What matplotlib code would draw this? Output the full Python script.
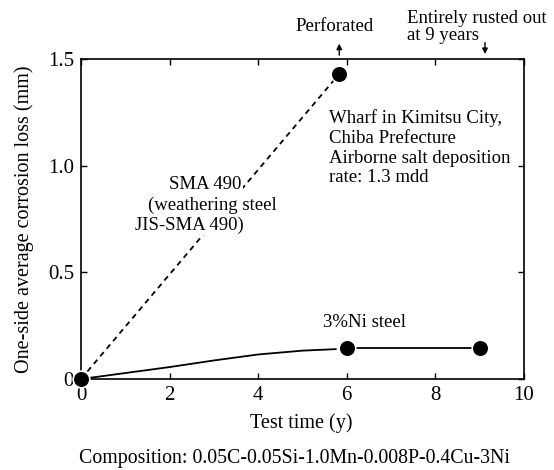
import matplotlib.pyplot as plt

plt.rcParams["font.family"] = "Liberation Serif"
plt.rcParams["font.size"] = 13.5

# SMA 490 (weathering steel), dashed line
sma_t = [0, 5.83]
sma_loss = [0, 1.43]

# 3%Ni steel, trend curve
ni_curve_t = [0, 1, 2, 3, 4, 5, 5.75]
ni_curve_loss = [0, 0.028, 0.056, 0.087, 0.115, 0.133, 0.14]
ni_line_t = [6, 9]
ni_line_loss = [0.145, 0.145]

# measured points
pts_t = [0, 5.83, 6, 9]
pts_loss = [0, 1.43, 0.145, 0.145]

xticks = [0, 2, 4, 6, 8, 10]
yticks = [0, 0.5, 1.0, 1.5]
ytick_labels = ["0", "0.5", "1.0", "1.5"]

fig = plt.figure(figsize=(5.54, 4.70), dpi=100)
ax = fig.add_axes([0.1462, 0.1936, 0.7996, 0.6809])

ax.plot(sma_t, sma_loss, 'k--', lw=1.3, dashes=(3, 2.5))
ax.plot(ni_curve_t, ni_curve_loss, 'k-', lw=1.3)
ax.plot(ni_line_t, ni_line_loss, 'k-', lw=1.3)
ax.plot(pts_t, pts_loss, 'o', color='k', ms=12, mec='white', mew=1.2,
        clip_on=False, zorder=5)

ax.set_xlim(0, 10)
ax.set_ylim(0, 1.5)
ax.set_xticks(xticks)
ax.set_yticks(yticks)
ax.set_yticklabels(ytick_labels)
ax.tick_params(direction='in', top=True, right=True, length=4, width=1,
               labelsize=15, pad=5)
for s in ax.spines.values():
    s.set_linewidth(1.2)

ax.set_xlabel('Test time (y)', fontsize=14.5)
ax.xaxis.set_label_coords(0.497, -0.106)
ax.set_ylabel('One-side average corrosion loss (mm)', fontsize=14.5)
ax.yaxis.set_label_coords(-0.106, 0.5)

# SMA 490 label sits on top of the dashed line, which is broken behind it
box = dict(fc='white', ec='none', pad=1)
ax.text(2.80, 0.91, 'SMA 490', ha='center', va='center', bbox=box, zorder=4)
ax.text(2.96, 0.816, '(weathering steel', ha='center', va='center', bbox=box, zorder=4)
ax.text(2.44, 0.72, 'JIS-SMA 490)', ha='center', va='center', bbox=box, zorder=4)

ax.text(5.6, 1.083, 'Wharf in Kimitsu City,\nChiba Prefecture\nAirborne salt deposition\nrate: 1.3 mdd',
        va='center', linespacing=1.2)
ax.text(6.39, 0.267, '3%Ni steel', ha='center', va='center')

# arrows above the frame
ax.annotate('', xy=(5.83, 1.585), xytext=(5.83, 1.505), annotation_clip=False,
            arrowprops=dict(arrowstyle='-|>', color='k', lw=1, mutation_scale=8))
ax.text(5.73, 1.65, 'Perforated', ha='center', va='center')
ax.annotate('', xy=(9.12, 1.51), xytext=(9.12, 1.59), annotation_clip=False,
            arrowprops=dict(arrowstyle='-|>', color='k', lw=1, mutation_scale=8))
ax.text(7.36, 1.648, 'Entirely rusted out\nat 9 years', va='center', linespacing=1.0)

fig.text(0.531, 0.0255, 'Composition: 0.05C-0.05Si-1.0Mn-0.008P-0.4Cu-3Ni',
         ha='center', va='center', fontsize=14.3)

fig.savefig('out.png', dpi=100)
